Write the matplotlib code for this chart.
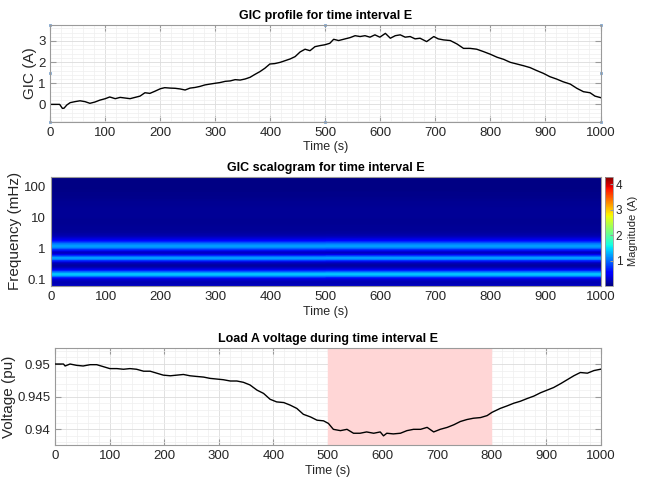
import numpy as np
import matplotlib.pyplot as plt
from matplotlib.ticker import MultipleLocator, FixedLocator, FixedFormatter

plt.rcParams['font.family'] = ['Liberation Sans', 'DejaVu Sans']

# GIC profile (A) over time interval E
gic_t = [0, 17, 22, 25, 30, 36, 45, 54, 63, 72, 81, 90, 100, 108, 118, 127, 136, 145,
         154, 163, 172, 181, 190, 200, 208, 218, 227, 236, 245, 254, 263, 272, 281,
         290, 300, 308, 318, 327, 336, 345, 354, 363, 372, 381, 390, 399, 408, 418,
         427, 436, 445, 454, 463, 472, 481, 490, 499, 508, 515, 524, 533, 545, 554,
         563, 572, 581, 590, 599, 609, 618, 627, 636, 645, 654, 663, 672, 684, 697,
         705, 715, 727, 739, 751, 763, 775, 787, 800, 812, 824, 836, 848, 860, 872,
         884, 896, 908, 920, 932, 945, 957, 969, 981, 990, 1000]
gic_a = [0.0, 0.0, -0.19, -0.18, -0.03, 0.08, 0.13, 0.17, 0.13, 0.05, 0.11, 0.20,
         0.27, 0.35, 0.27, 0.33, 0.30, 0.27, 0.33, 0.39, 0.55, 0.52, 0.62, 0.74,
         0.79, 0.77, 0.76, 0.73, 0.68, 0.77, 0.80, 0.85, 0.92, 0.96, 1.00, 1.03,
         1.09, 1.11, 1.17, 1.15, 1.20, 1.28, 1.42, 1.55, 1.71, 1.91, 1.93, 1.99,
         2.07, 2.15, 2.26, 2.48, 2.61, 2.54, 2.73, 2.78, 2.82, 2.89, 3.08, 3.02,
         3.08, 3.16, 3.25, 3.21, 3.25, 3.18, 3.29, 3.18, 3.36, 3.13, 3.25, 3.29,
         3.18, 3.21, 3.10, 3.13, 2.97, 3.21, 3.10, 3.05, 3.02, 2.86, 2.65, 2.65,
         2.61, 2.50, 2.37, 2.23, 2.13, 1.99, 1.91, 1.83, 1.74, 1.60, 1.47, 1.31,
         1.20, 1.07, 0.96, 0.76, 0.60, 0.55, 0.39, 0.32]

# scalogram magnitude (A) versus log10 frequency (mHz), same along the whole interval
scal_logf = [2.30, 2.20, 2.10, 2.00, 1.90, 1.80, 1.70, 1.60, 1.50, 1.40, 1.30, 1.20,
             1.10, 1.00, 0.90, 0.80, 0.70, 0.60, 0.50, 0.40, 0.35, 0.30, 0.25, 0.20,
             0.15, 0.10, 0.05, 0.00, -0.05, -0.10, -0.15, -0.20, -0.25, -0.30, -0.35,
             -0.40, -0.45, -0.50, -0.55, -0.60, -0.65, -0.70, -0.75, -0.80, -0.85,
             -0.90, -0.95, -1.00, -1.05, -1.10, -1.15, -1.20]
scal_mag = [0.04, 0.04, 0.04, 0.05, 0.05, 0.06, 0.07, 0.08, 0.09, 0.10, 0.11, 0.11,
            0.11, 0.11, 0.10, 0.10, 0.11, 0.12, 0.15, 0.22, 0.30, 0.40, 0.55, 0.80,
            1.05, 1.20, 1.22, 1.05, 0.70, 0.38, 0.25, 0.45, 0.90, 1.25, 1.18, 0.70,
            0.35, 0.20, 0.15, 0.20, 0.35, 0.60, 1.00, 1.35, 1.40, 1.10, 0.60, 0.35,
            0.25, 0.22, 0.25, 0.28]
scal_t = [0, 1000]

# Load A voltage (pu)
volt_t = [0, 15, 18, 27, 39, 51, 64, 76, 88, 100, 113, 125, 137, 149, 162, 174, 186,
          198, 211, 223, 235, 247, 259, 272, 284, 296, 308, 321, 333, 345, 357, 370,
          382, 394, 406, 419, 431, 443, 455, 468, 480, 492, 501, 510, 523, 535, 547,
          559, 571, 584, 596, 602, 608, 620, 633, 645, 657, 670, 682, 694, 706, 719,
          731, 743, 755, 767, 780, 792, 801, 816, 829, 841, 853, 865, 878, 890, 902,
          914, 927, 939, 951, 963, 976, 988, 1000]
volt_pu = [0.9500, 0.9500, 0.9497, 0.9500, 0.9498, 0.9497, 0.9499, 0.9499, 0.9496,
           0.9493, 0.9493, 0.9492, 0.9493, 0.9492, 0.9489, 0.9489, 0.9486, 0.9483,
           0.9482, 0.9483, 0.9484, 0.9482, 0.9481, 0.9480, 0.9478, 0.9477, 0.9476,
           0.9474, 0.9474, 0.9472, 0.9468, 0.9460, 0.9455, 0.9446, 0.9442, 0.9441,
           0.9437, 0.9432, 0.9423, 0.9419, 0.9414, 0.9413, 0.9409, 0.9400, 0.9398,
           0.9400, 0.9394, 0.9394, 0.9396, 0.9394, 0.9396, 0.9390, 0.9394, 0.9393,
           0.9394, 0.9398, 0.9400, 0.9400, 0.9403, 0.9396, 0.9400, 0.9403, 0.9407,
           0.9412, 0.9415, 0.9417, 0.9418, 0.9421, 0.9426, 0.9432, 0.9436, 0.9440,
           0.9443, 0.9447, 0.9451, 0.9456, 0.9460, 0.9464, 0.9470, 0.9476, 0.9482,
           0.9487, 0.9486, 0.9490, 0.9492]

x_ticks = list(range(0, 1001, 100))
freq_ticks = [0.1, 1, 10, 100]
freq_labels = ['0.1', '1', '10', '100']
cbar_ticks = [1, 2, 3, 4]

W, H = 649, 479
fig = plt.figure(figsize=(W / 100, H / 100), dpi=100)

def px_axes(left, top, right, bottom):
    return fig.add_axes([left / W, 1 - bottom / H, (right - left) / W, (bottom - top) / H])

edge = '#9a9a9a'
txt = '#262626'

def style(ax, grid=True):
    for s in ax.spines.values():
        s.set_color(edge)
        s.set_linewidth(0.8)
    ax.tick_params(which='both', direction='in', top=True, right=True, colors=edge,
                   labelcolor=txt, labelsize=9.5)
    ax.tick_params(which='major', length=4)
    ax.tick_params(which='minor', length=0)
    if grid:
        ax.grid(True, which='major', color='#dcdcdc', linewidth=0.6)
        ax.grid(True, which='minor', color='#efefef', linewidth=0.5)
        ax.set_axisbelow(True)

# top: GIC profile
ax1 = px_axes(50.3, 24.7, 600.5, 121.7)
ax1.plot(gic_t, gic_a, color='black', linewidth=1.0)
ax1.set_xlim(0, 1000)
ax1.set_ylim(-0.82, 3.77)
ax1.set_xticks(x_ticks)
ax1.set_yticks([0, 1, 2, 3])
ax1.xaxis.set_minor_locator(MultipleLocator(20))
ax1.yaxis.set_minor_locator(MultipleLocator(0.2))
style(ax1)
ax1.set_title('GIC profile for time interval E', fontsize=9, fontweight='bold', pad=4)
ax1.set_xlabel('Time (s)', fontsize=9, color=txt, labelpad=2)
ax1.set_ylabel('GIC (A)', fontsize=11, color=txt, labelpad=1)
# selection handles around the top axes
hx = [0, 0.5, 1, 0, 1, 0, 0.5, 1]
hy = [1, 1, 1, 0.5, 0.5, 0, 0, 0]
ax1.plot(hx, hy, 's', ms=2, mfc='#b0cde6', mec='#6f9bcc', mew=0.5,
         transform=ax1.transAxes, clip_on=False)

# middle: scalogram
ax2 = px_axes(50.7, 176.7, 600.5, 286)
freqs = 10 ** np.array(scal_logf)
mag = np.tile(np.array(scal_mag)[:, None], (1, len(scal_t)))
mesh = ax2.pcolormesh(scal_t, freqs, mag, cmap='jet', vmin=0.02, vmax=4.3,
                      shading='gouraud', rasterized=True)
ax2.set_yscale('log')
ax2.set_xlim(0, 1000)
ax2.set_ylim(10 ** -1.2, 10 ** 2.3)
ax2.set_xticks(x_ticks)
ax2.yaxis.set_major_locator(FixedLocator(freq_ticks))
ax2.yaxis.set_major_formatter(FixedFormatter(freq_labels))
ax2.yaxis.set_minor_locator(FixedLocator([]))
style(ax2, grid=False)
ax2.tick_params(which='major', length=0)
ax2.set_title('GIC scalogram for time interval E', fontsize=9, fontweight='bold', pad=4)
ax2.set_xlabel('Time (s)', fontsize=9, color=txt, labelpad=2)
ax2.set_ylabel('Frequency (mHz)', fontsize=11, color=txt, labelpad=1)

cax = px_axes(605, 176.7, 613, 286)
cb = fig.colorbar(mesh, cax=cax, ticks=cbar_ticks)
cb.outline.set_edgecolor(edge)
cb.outline.set_linewidth(0.6)
cax.tick_params(direction='in', length=2, pad=2, colors=edge, labelcolor=txt, labelsize=8.5)
cb.set_label('Magnitude (A)', fontsize=8, color=txt, labelpad=4)

# bottom: Load A voltage
ax3 = px_axes(55.3, 347.7, 600.5, 445)
ax3.axvspan(500, 800, color='#ffd6d6', zorder=1)
ax3.plot(volt_t, volt_pu, color='black', linewidth=1.0, zorder=3)
ax3.set_xlim(0, 1000)
ax3.set_ylim(0.9376, 0.9525)
ax3.set_xticks(x_ticks)
ax3.set_yticks([0.94, 0.945, 0.95])
ax3.set_yticklabels(['0.94', '0.945', '0.95'])
ax3.xaxis.set_minor_locator(MultipleLocator(20))
ax3.yaxis.set_minor_locator(MultipleLocator(0.001))
style(ax3)
ax3.set_title('Load A voltage during time interval E', fontsize=9, fontweight='bold', pad=4)
ax3.set_xlabel('Time (s)', fontsize=9, color=txt, labelpad=2)
ax3.set_ylabel('Voltage (pu)', fontsize=11, color=txt, labelpad=1)

fig.savefig('out.png', dpi=100)
